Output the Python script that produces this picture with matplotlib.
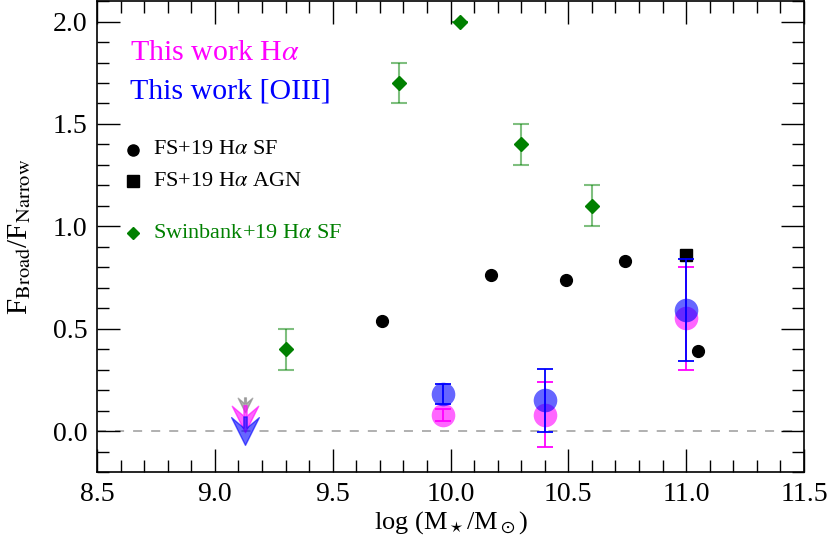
import numpy as np
import matplotlib
matplotlib.use("Agg")
import matplotlib.pyplot as plt
from matplotlib.path import Path
from matplotlib.ticker import MultipleLocator

plt.rcParams['font.family'] = ['Liberation Serif', 'DejaVu Serif']
plt.rcParams['mathtext.fontset'] = 'stix'

# --- Data ---
# Swinbank+19 Halpha SF
sw_x = [9.30, 9.78, 10.04, 10.30, 10.60]
sw_y = [0.40, 1.70, 2.00, 1.40, 1.10]
sw_err = [0.10, 0.10, 0.0, 0.10, 0.10]

# FS+19 Halpha SF
fs_sf_x = [9.71, 10.17, 10.49, 10.74, 11.05]
fs_sf_y = [0.54, 0.76, 0.74, 0.83, 0.39]

# FS+19 Halpha AGN
fs_agn_x = [11.00]
fs_agn_y = [0.86]

# This work Halpha
ha_x = [9.97, 10.40, 11.00]
ha_y = [0.08, 0.08, 0.55]
ha_err = [0.03, 0.16, 0.25]

# This work [OIII]
o3_x = [9.97, 10.40, 11.00]
o3_y = [0.18, 0.15, 0.59]
o3_err = [0.05, 0.155, 0.25]

# Upper limits at lowest mass bin
ul_x = [9.13, 9.13, 9.13]
ul_y = [0.125, 0.06, 0.0]
ul_colors = ['grey', 'magenta', 'blue']
ul_sizes = [11, 20, 21]

# arrowhead marker (downward)
verts = [(-1, 1), (-0.12, 0.25), (-0.12, 1.05), (0.12, 1.05), (0.12, 0.25),
         (1, 1), (0, -1), (-1, 1)]
codes = [Path.MOVETO] + [Path.LINETO] * 6 + [Path.CLOSEPOLY]
arrow = Path(verts, codes)

fig = plt.figure(figsize=(8.3, 5.4), dpi=100)
ax = fig.add_axes([0.1169, 0.1259, 0.8518, 0.872])

ax.axhline(0.0, color='#aaaaaa', lw=1.3, ls=(0, (5, 5)), zorder=0)

# Swinbank
ax.errorbar(sw_x, sw_y, yerr=sw_err, fmt='none', ecolor='green', alpha=0.5,
            elinewidth=1.5, capsize=6, capthick=1.5, zorder=2)
ax.plot(sw_x, sw_y, 'D', color='green', ms=7, zorder=3)

# FS+19
ax.plot(fs_sf_x, fs_sf_y, 'o', color='black', ms=8.5, zorder=3)
ax.plot(fs_agn_x, fs_agn_y, 's', color='black', ms=8.5, zorder=3)

# This work
ax.errorbar(ha_x, ha_y, yerr=ha_err, fmt='none', ecolor='magenta',
            elinewidth=1.3, capsize=6, capthick=1.3, zorder=3.5)
ax.plot(ha_x, ha_y, 'o', color='magenta', alpha=0.6, ms=17, mec='none', zorder=4)
ax.errorbar(o3_x, o3_y, yerr=o3_err, fmt='none', ecolor='blue',
            elinewidth=1.3, capsize=6, capthick=1.3, zorder=4.5)
ax.plot(o3_x, o3_y, 'o', color='blue', alpha=0.6, ms=17, mec='none', zorder=5)

for x, y, c, s in zip(ul_x, ul_y, ul_colors, ul_sizes):
    ax.plot([x], [y], marker=arrow, color=c, alpha=0.6, ms=s, mec=c, mew=1,
            ls='none', zorder=6)

# annotations / legend
ax.text(0.047, 0.89, r'This work H$\alpha$', color='magenta', fontsize=21.5,
        transform=ax.transAxes, va='center', ha='left')
ax.text(0.047, 0.809, 'This work [OIII]', color='blue', fontsize=21.5,
        transform=ax.transAxes, va='center', ha='left')

ax.plot([0.051], [0.684], 'o', color='black', ms=8, transform=ax.transAxes)
ax.text(0.079, 0.684, r'FS+19 H$\alpha$ SF', color='black', fontsize=16,
        transform=ax.transAxes, va='center', ha='left')
ax.plot([0.051], [0.618], 's', color='black', ms=8, transform=ax.transAxes)
ax.text(0.079, 0.618, r'FS+19 H$\alpha$ AGN', color='black', fontsize=16,
        transform=ax.transAxes, va='center', ha='left')
ax.plot([0.051], [0.507], 'D', color='green', ms=6.5, transform=ax.transAxes)
ax.text(0.079, 0.507, r'Swinbank+19 H$\alpha$ SF', color='green', fontsize=16,
        transform=ax.transAxes, va='center', ha='left')

ax.set_xlim(8.5, 11.5)
ax.set_ylim(-0.2, 2.1)
ax.xaxis.set_major_locator(MultipleLocator(0.5))
ax.xaxis.set_minor_locator(MultipleLocator(0.1))
ax.yaxis.set_major_locator(MultipleLocator(0.5))
ax.yaxis.set_minor_locator(MultipleLocator(0.1))
ax.xaxis.set_major_formatter(matplotlib.ticker.FormatStrFormatter('%.1f'))
ax.yaxis.set_major_formatter(matplotlib.ticker.FormatStrFormatter('%.1f'))
ax.tick_params(which='both', direction='in', top=True, right=True,
               labelsize=20, width=1.0)
ax.tick_params(which='major', length=16.5, pad=7)
ax.tick_params(which='minor', length=8.5)
for sp in ax.spines.values():
    sp.set_linewidth(1.2)

ax.set_xlabel(r'log (M$_\star$/M$_\odot$)', fontsize=19, labelpad=2)
ax.set_ylabel(r'F$_{\rm Broad}$/F$_{\rm Narrow}$', fontsize=21, labelpad=14)

fig.savefig('out.png', dpi=100)
